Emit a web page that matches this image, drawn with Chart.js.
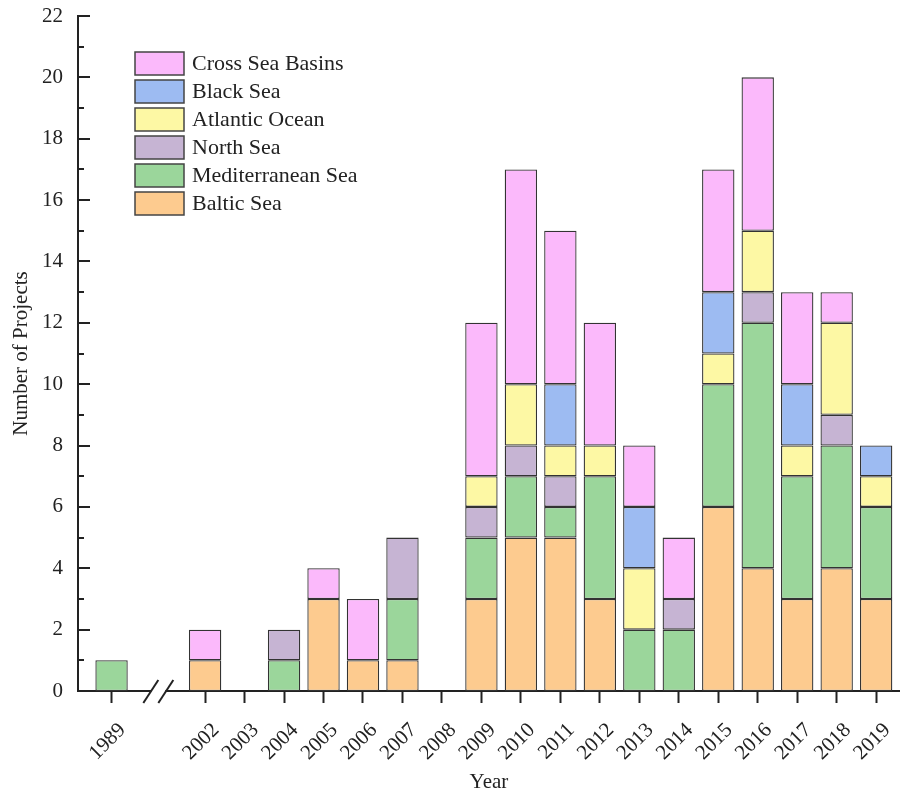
<!DOCTYPE html>
<html>
<head>
<meta charset="utf-8">
<script src="https://cdn.jsdelivr.net/npm/chart.js@4/dist/chart.umd.min.js"></script>
<style>
  html, body { margin: 0; padding: 0; background: #ffffff; }
  #wrap { width: 909px; height: 797px; position: relative; }
</style>
</head>
<body>
<div id="wrap"><canvas id="c"></canvas></div>
<script>
// ---- data ----
const years = [1989, 2002, 2003, 2004, 2005, 2006, 2007, 2008, 2009, 2010, 2011, 2012, 2013, 2014, 2015, 2016, 2017, 2018, 2019];
const balticSea        = [0, 1, 0, 0, 3, 1, 1, 0, 3, 5, 5, 3, 0, 0, 6, 4, 3, 4, 3];
const mediterraneanSea = [1, 0, 0, 1, 0, 0, 2, 0, 2, 2, 1, 4, 2, 2, 4, 8, 4, 4, 3];
const northSea         = [0, 0, 0, 1, 0, 0, 2, 0, 1, 1, 1, 0, 0, 1, 0, 1, 0, 1, 0];
const atlanticOcean    = [0, 0, 0, 0, 0, 0, 0, 0, 1, 2, 1, 1, 2, 0, 1, 2, 1, 3, 1];
const blackSea         = [0, 0, 0, 0, 0, 0, 0, 0, 0, 0, 2, 0, 2, 0, 2, 0, 2, 0, 1];
const crossSeaBasins   = [0, 1, 0, 0, 1, 2, 0, 0, 5, 7, 5, 4, 2, 2, 4, 5, 3, 1, 0];
const yTicks = [0, 2, 4, 6, 8, 10, 12, 14, 16, 18, 20, 22];

// ---- broken-axis mapping (1989 | break | 2002..2019) ----
const BREAK_AFTER = 1989, BREAK_RESUME = 2002, BREAK_SPAN = 2.37;
function axisPos(y) { return y <= BREAK_AFTER ? y - BREAK_AFTER : (y - BREAK_RESUME) + BREAK_SPAN; }

const FONT = "'Liberation Serif', 'Times New Roman', serif";
const INK = '#222222';

const seriesDefs = [
  { label: 'Baltic Sea',        values: balticSea,        color: '#fdcb8f' },
  { label: 'Mediterranean Sea', values: mediterraneanSea, color: '#9bd69b' },
  { label: 'North Sea',         values: northSea,         color: '#c6b4d3' },
  { label: 'Atlantic Ocean',    values: atlanticOcean,    color: '#fdf8a4' },
  { label: 'Black Sea',         values: blackSea,         color: '#9dbbf2' },
  { label: 'Cross Sea Basins',  values: crossSeaBasins,   color: '#fbb9fb' }
];

const datasets = seriesDefs.map(s => ({
  label: s.label,
  data: years.map((yr, i) => ({ x: axisPos(yr), y: s.values[i] === 0 ? null : s.values[i] })),
  backgroundColor: s.color,
  borderColor: '#333333',
  borderWidth: 1.3,
  borderSkipped: false,
  barPercentage: 0.82,
  categoryPercentage: 1.0
}));

const decorPlugin = {
  id: 'decor',
  afterDraw(chart) {
    const ctx = chart.ctx;
    const xs = chart.scales.x, ys = chart.scales.y;
    const area = chart.chartArea;
    ctx.save();
    // inward y ticks (major every 2, minor every 1)
    ctx.strokeStyle = INK;
    ctx.lineWidth = 2;
    for (let v = ys.min; v <= ys.max; v += 1) {
      const py = Math.round(ys.getPixelForValue(v));
      const len = (v % 2 === 0) ? 12 : 6;
      ctx.beginPath();
      ctx.moveTo(area.left, py);
      ctx.lineTo(area.left + len, py);
      ctx.stroke();
    }
    // axis break marks
    const xb = (xs.getPixelForValue(axisPos(BREAK_AFTER)) + xs.getPixelForValue(axisPos(BREAK_RESUME))) / 2;
    const yb = area.bottom;
    ctx.fillStyle = '#ffffff';
    ctx.fillRect(xb - 7, yb - 3, 14, 6);
    ctx.strokeStyle = INK;
    ctx.lineWidth = 2;
    [-7.5, 7.5].forEach(dx => {
      ctx.beginPath();
      ctx.moveTo(xb + dx - 7.5, yb + 12);
      ctx.lineTo(xb + dx + 7.5, yb - 11);
      ctx.stroke();
    });
    // legend (top to bottom = reversed stacking order)
    const bx = area.left + 57, bw = 49, bh = 23, step = 28;
    let cy = area.top + 47.5;
    ctx.font = '22px ' + FONT;
    ctx.textBaseline = 'middle';
    ctx.textAlign = 'left';
    chart.data.datasets.slice().reverse().forEach(ds => {
      ctx.fillStyle = ds.backgroundColor;
      ctx.fillRect(bx, cy - bh / 2, bw, bh);
      ctx.strokeStyle = '#444444';
      ctx.lineWidth = 1.5;
      ctx.strokeRect(bx, cy - bh / 2, bw, bh);
      ctx.fillStyle = INK;
      ctx.fillText(ds.label, bx + bw + 8, cy + 1);
      cy += step;
    });
    ctx.restore();
  }
};

new Chart(document.getElementById('c'), {
  type: 'bar',
  data: { datasets },
  options: {
    responsive: true,
    maintainAspectRatio: false,
    animation: false,
    devicePixelRatio: 1,
    layout: { padding: { top: 16, right: 1, left: 0, bottom: 0 } },
    plugins: { legend: { display: false }, tooltip: { enabled: false } },
    scales: {
      x: {
        type: 'linear',
        stacked: true,
        offset: false,
        min: axisPos(1989) - 0.85,
        max: axisPos(2019) + 0.6,
        afterBuildTicks: (scale) => { scale.ticks = years.map(y => ({ value: axisPos(y) })); },
        afterFit: (scale) => { scale.height = 106; scale.paddingTop = 0; scale.paddingBottom = 0; },
        grid: { display: true, offset: false, drawOnChartArea: false, drawTicks: true, tickLength: 12, tickColor: INK, tickWidth: 2 },
        border: { display: true, color: INK, width: 2 },
        ticks: {
          autoSkip: false,
          minRotation: 45,
          maxRotation: 45,
          padding: 15,
          labelOffset: 11,
          color: INK,
          font: { family: FONT, size: 21 },
          callback: (value, index) => String(years[index])
        },
        title: { display: true, text: 'Year', color: INK, font: { family: FONT, size: 21 }, padding: { top: 0, bottom: 2 } }
      },
      y: {
        stacked: true,
        min: 0,
        max: 22,
        afterBuildTicks: (scale) => { scale.ticks = yTicks.map(v => ({ value: v })); },
        afterFit: (scale) => { scale.width = 78; scale.paddingTop = 0; scale.paddingBottom = 0; },
        grid: { display: false, drawTicks: false, tickLength: 0 },
        border: { display: true, color: INK, width: 2 },
        ticks: { padding: 15, color: INK, font: { family: FONT, size: 21 } },
        title: { display: true, text: 'Number of Projects', color: INK, font: { family: FONT, size: 21 }, padding: { top: 9, bottom: 0 } }
      }
    }
  },
  plugins: [decorPlugin]
});
</script>
</body>
</html>
